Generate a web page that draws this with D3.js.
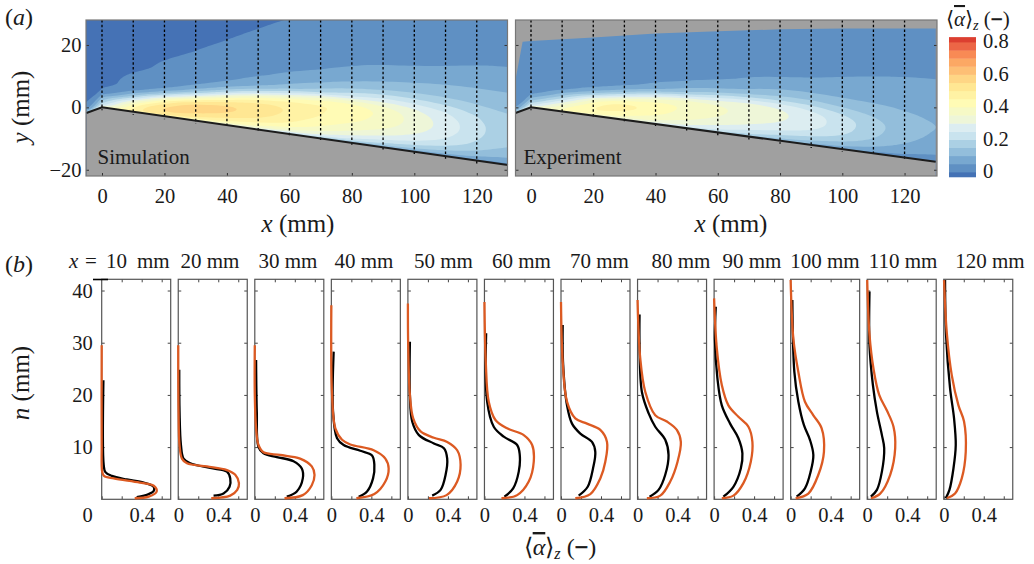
<!DOCTYPE html>
<html>
<head>
<meta charset="utf-8">
<script src="https://cdn.jsdelivr.net/npm/d3@7"></script>
<style>
  body { margin: 0; background: #fff; }
  svg { display: block; }
  text { font-family: "Liberation Serif", serif; fill: #1a1a1a; }
</style>
</head>
<body>
<script>
// colour bands of the contour plots
const bandEdges = [-0.03, 0, 0.05, 0.1, 0.15, 0.2, 0.25, 0.3, 0.35, 0.4, 0.45, 0.5, 0.55, 0.6, 0.65, 0.7, 0.75, 0.8, 0.83];
const bandColors = ["#4472b5", "#5f90c3", "#78a8d0", "#93bedb", "#abd0e4", "#c9e3ee", "#dcedf1", "#eef6d8", "#f6f9c6",
  "#fffbb5", "#fff2a4", "#ffe793", "#fed685", "#fdbf75", "#fca864", "#f88a55", "#ec6646", "#dc3f30"];

// field grid: wall distance rows, x stations
const nRows = [0, 1, 3, 5, 7, 9, 11, 13, 15, 18, 22, 27, 33, 40, 50];
const xCols = [-5, 0, 10, 20, 30, 40, 50, 60, 70, 80, 90, 100, 110, 120, 130];

const simField = [
  [-.01, -.01, -.01, -.01, -.01, -.01, -.01, -.01, -.01, -.01, -.01, -.01, -.01, -.01, -.01],
  [.45, .15, -.005, -.01, -.01, -.01, -.01, -.01, -.01, -.01, -.01, -.01, -.01, -.01, -.01],
  [.5, .59, .42, .02, .008, .005, .002, -.005, -.01, -.01, -.01, -.01, -.01, -.01, -.01],
  [.45, .56, .62, .56, .1, .035, .022, .014, .006, .001, -.01, -.01, -.01, -.01, -.01],
  [.35, .5, .57, .595, .5, .09, .045, .025, .015, .008, .001, -.01, -.01, -.01, -.01],
  [.3, .43, .53, .57, .56, .45, .12, .06, .04, .02, .01, .002, -.01, -.01, -.01],
  [.25, .39, .48, .52, .53, .51, .39, .13, .07, .04, .018, .007, .001, -.01, -.01],
  [.2, .33, .44, .48, .5, .49, .43, .24, .12, .065, .03, .015, .004, -.002, -.01],
  [.15, .29, .37, .41, .44, .45, .46, .4, .17, .1, .053, .025, .01, .002, .001],
  [.1, .23, .33, .38, .41, .43, .44, .38, .25, .125, .062, .04, .02, .005, .002],
  [.07, .17, .27, .33, .37, .38, .385, .365, .3, .165, .09, .045, .025, .01, .003],
  [.05, .15, .24, .29, .32, .335, .33, .31, .26, .165, .1, .05, .025, .01, .003],
  [.04, .11, .19, .24, .265, .28, .28, .265, .235, .16, .115, .06, .03, .012, .003],
  [.03, .09, .15, .19, .21, .22, .22, .21, .195, .155, .11, .07, .038, .015, .004],
  [.02, .06, .09, .115, .13, .14, .145, .145, .14, .125, .105, .08, .042, .018, .005]
];

const expField = [
  [.01, .01, .01, .01, .01, .01, .01, .01, .01, .01, .01, .01, .01, .01, .01],
  [.5, .2, .01, .01, .01, .01, .01, .01, .01, .01, .01, .01, .01, .01, .01],
  [.38, .5, .32, .04, .02, .018, .017, .016, .016, .015, .015, .012, .01, .01, .01],
  [.33, .45, .515, .49, .1, .045, .025, .02, .016, .013, .01, .01, .01, .01, .01],
  [.3, .38, .46, .48, .4, .08, .035, .025, .02, .018, .016, .013, .012, .01, .01],
  [.26, .34, .4, .425, .43, .33, .09, .05, .025, .017, .02, .02, .015, .012, .01],
  [.22, .3, .36, .38, .39, .37, .18, .09, .055, .025, .02, .02, .017, .012, .01],
  [.18, .26, .32, .35, .353, .34, .27, .14, .075, .033, .022, .018, .015, .012, .01],
  [.13, .2, .28, .32, .34, .34, .31, .175, .1, .06, .032, .02, .017, .012, .01],
  [.1, .17, .24, .285, .305, .31, .285, .2, .14, .075, .035, .022, .02, .015, .012],
  [.08, .13, .215, .26, .28, .28, .255, .2, .14, .08, .049, .025, .02, .015, .012],
  [.05, .1, .17, .21, .225, .225, .2, .15, .11, .08, .055, .035, .02, .017, .012],
  [.03, .07, .12, .15, .165, .17, .155, .135, .115, .085, .062, .04, .022, .02, .015],
  [.02, .045, .075, .1, .112, .118, .118, .11, .1, .08, .067, .045, .025, .015, .012],
  [.015, .03, .05, .07, .08, .085, .09, .09, .085, .075, .065, .05, .025, .015, .01]
];

// wall and measured-area outline, in mm
const wallX = [-5, 0, 130];
const wallSimY = [-1.8, 0, -18.5];
const wallExpY = [-1.8, 0, -17.4];
const expTopX = [-4.8, -2.7, 0, 20, 40, 60, 80, 100, 129.5];
const expTopY = [9.8, 21, 21.3, 22.4, 23.7, 24.4, 25, 25.3, 25.3];

const stationX = [10, 20, 30, 40, 50, 60, 70, 80, 90, 100, 110, 120];

// profiles of panel (b): [alpha, n]
const sim10 = [[.33, .2], [.47, .5], [.55, 1.5], [.52, 2.6], [.38, 3.2], [.12, 4], [.023, 4.5], [.005, 5.3], [0, 10.4], [0, 29.5]];
const sim20 = [[.33, .2], [.52, .7], [.59, 1.8], [.607, 3.1], [.57, 4.7], [.487, 5.6], [.287, 6.3], [.087, 6.9], [.037, 7.8], [.013, 10.4], [.003, 16.8], [0, 29.5]];
const sim30 = [[.297, .2], [.48, .8], [.57, 2.7], [.597, 4.7], [.57, 6.3], [.453, 7.8], [.253, 8.5], [.087, 9], [.037, 10.4], [.013, 13.6], [0, 20], [0, 29.5]];
const sim40 = [[.25, .2], [.43, 1], [.54, 3.4], [.573, 5.9], [.54, 7.8], [.423, 9.4], [.19, 10.5], [.107, 11.4], [.04, 13.6], [.007, 20], [0, 37.2]];
const sim50 = [[.21, .2], [.387, .8], [.493, 3.4], [.527, 6.6], [.493, 9.4], [.393, 11], [.26, 11.8], [.127, 13], [.053, 15.5], [.02, 20], [.003, 29.5], [0, 37.5]];
const sim60 = [[.17, .2], [.327, .8], [.443, 3.4], [.493, 7.2], [.477, 10.4], [.393, 12.3], [.227, 13.6], [.11, 15.2], [.043, 18.7], [.013, 26.4], [0, 37.8]];
const sim70 = [[.143, .2], [.293, 1], [.393, 4], [.443, 7.2], [.46, 11], [.393, 13.3], [.26, 14.5], [.143, 15.5], [.06, 18.7], [.017, 26.4], [0, 37.8]];
const sim80 = [[.093, .2], [.227, .7], [.327, 3.4], [.4, 7.2], [.433, 11], [.393, 13.3], [.293, 14.9], [.177, 16.1], [.077, 20.6], [.027, 27], [0, 38.2]];
const sim90 = [[.077, .2], [.193, .7], [.293, 3.1], [.367, 7.2], [.383, 11], [.343, 13.9], [.243, 15.8], [.143, 18], [.077, 21.9], [.027, 28.9], [0, 38.5]];
const sim100 = [[.05, .2], [.177, 1.1], [.277, 4.7], [.333, 9.1], [.31, 13.6], [.227, 16.1], [.143, 18.7], [.077, 24.4], [.027, 30.8], [0, 42]];
const sim110 = [[.037, .2], [.13, 1.1], [.23, 4.7], [.28, 9.8], [.263, 13.9], [.197, 17], [.12, 20], [.063, 25], [.023, 31.5], [0, 42]];
const sim120 = [[.03, .2], [.113, 1.1], [.18, 4], [.22, 9.1], [.203, 14.9], [.147, 18], [.08, 23.8], [.03, 32], [.003, 42]];

const exp10 = [[.35, .4], [.47, 1], [.52, 1.6], [.52, 2.4], [.42, 3.2], [.25, 3.8], [.1, 4.5], [.037, 5.2], [.02, 6.6], [.017, 22.8]];
const exp20 = [[.353, .7], [.453, 1.1], [.513, 2.4], [.52, 4], [.487, 5.3], [.32, 6], [.12, 6.9], [.053, 7.8], [.027, 10.4], [.013, 16.8], [.01, 24.8]];
const exp30 = [[.32, .5], [.42, 1.5], [.48, 4], [.47, 5.9], [.387, 7.3], [.22, 8.1], [.087, 8.8], [.037, 10], [.02, 16.8], [.013, 26.7]];
const exp40 = [[.273, .5], [.357, 1.5], [.417, 4], [.43, 6.6], [.407, 8.4], [.29, 9.3], [.123, 10.4], [.057, 11.7], [.017, 16.8], [.023, 28.3]];
const exp50 = [[.243, .7], [.327, 1.8], [.377, 4.7], [.393, 7.8], [.36, 9.8], [.26, 10.7], [.11, 12.3], [.043, 14.9], [.02, 20], [.02, 30.2]];
const exp60 = [[.2, .5], [.287, 2.1], [.343, 5.3], [.353, 8.5], [.327, 10.4], [.193, 12], [.093, 13.9], [.027, 18.7], [.017, 31.8]];
const exp70 = [[.177, .7], [.267, 2.4], [.32, 5.9], [.343, 9.1], [.31, 11], [.193, 12.6], [.11, 14.5], [.06, 18], [.02, 26.4], [.017, 33.4]];
const exp80 = [[.12, .5], [.21, 1.8], [.277, 4.7], [.31, 8.5], [.277, 11.4], [.177, 13.9], [.11, 16.5], [.043, 20.6], [.02, 29.5], [.02, 35.4]];
const exp90 = [[.093, .5], [.193, 2.4], [.267, 5.9], [.283, 8.8], [.243, 11.7], [.16, 14.5], [.077, 18], [.033, 23.2], [.008, 30.8], [.017, 36.9]];
const exp100 = [[.06, .5], [.143, 2.1], [.2, 5.3], [.227, 8.5], [.193, 11.4], [.133, 14.2], [.077, 18.7], [.037, 24.4], [.017, 38.2]];
const exp110 = [[.037, .5], [.097, 1.8], [.147, 5.3], [.17, 9.8], [.147, 12.3], [.097, 16.8], [.057, 21.9], [.023, 29.5], [.023, 39.8]];
const exp120 = [[.02, .2], [.057, 1.8], [.097, 5.9], [.12, 10.4], [.103, 15.5], [.063, 21.3], [.023, 31.5], [.013, 42]];

const simProfiles = [sim10, sim20, sim30, sim40, sim50, sim60, sim70, sim80, sim90, sim100, sim110, sim120];
const expProfiles = [exp10, exp20, exp30, exp40, exp50, exp60, exp70, exp80, exp90, exp100, exp110, exp120];

const svg = d3.select("body").append("svg").attr("width", 1034).attr("height", 564);

const defs = svg.append("defs");
defs.append("filter").attr("id", "soft").append("feGaussianBlur").attr("stdDeviation", 0.6);

// one segment of a Catmull-Rom spline, kept between its two end values
function spline(a, b, c, d, t) {
  const v = 0.5 * (2 * b + (c - a) * t + (2 * a - 5 * b + 4 * c - d) * t * t + (3 * b - a - 3 * c + d) * t * t * t);
  return Math.max(Math.min(b, c), Math.min(Math.max(b, c), v));
}
function refine(line, k) {
  const out = [];
  for (let i = 0; i < line.length - 1; i++) {
    const a = line[Math.max(i - 1, 0)], b = line[i], c = line[i + 1], d = line[Math.min(i + 2, line.length - 1)];
    for (let s = 0; s < k; s++) out.push(spline(a, b, c, d, s / k));
  }
  out.push(line[line.length - 1]);
  return out;
}

const K = 6;

// contour panel (a)
function contourPanel(o) {
  const x = d3.scaleLinear().domain([(o.left - o.x0) / o.pxmm, (o.left + 421.5 - o.x0) / o.pxmm]).range([o.left, o.left + 421.5]);
  const y = d3.scaleLinear().domain([-22, 28]).range([176, 20]);
  const wall = d3.scaleLinear().domain(wallX).range(o.wallY);
  const g = svg.append("g");

  g.append("rect").attr("x", o.left).attr("y", 20).attr("width", 421.5).attr("height", 156).attr("fill", "#a0a0a0");

  const clipId = "clip" + o.name;
  const clip = defs.append("clipPath").attr("id", clipId);
  if (o.top) {
    const area = o.top.map(d => [x(d[0]), y(d[1])]);
    area.push([x(130), y(o.top[o.top.length - 1][1])], [x(130), 176], [x(-4.8), 176]);
    clip.append("path").attr("d", d3.line()(area) + "Z");
  } else {
    clip.append("rect").attr("x", o.left).attr("y", 20).attr("width", 421.5).attr("height", 156);
  }

  // upsample along n then along x, then soften the grid steps
  const rowsUp = o.field.map(col => refine(col, K));
  const nUp = rowsUp[0].length;
  const colsUp = d3.range(nUp).map(j => refine(rowsUp.map(r => r[j]), K));
  const mUp = colsUp[0].length;
  const values = [];
  for (let j = 0; j < nUp; j++) for (let i = 0; i < mUp; i++) values.push(colsUp[j][i]);
  if (d3.blur2) d3.blur2({ data: values, width: mUp, height: nUp }, 4, 1.5);

  const xIdx = d3.scaleLinear().domain(d3.range(xCols.length)).range(xCols).clamp(true);
  const nIdx = d3.scaleLinear().domain(d3.range(nRows.length)).range(nRows).clamp(true);
  const proj = d3.geoTransform({
    point(gx, gy) {
      const mmX = xIdx((gx - 0.5) / K), mmN = nIdx((gy - 0.5) / K);
      this.stream.point(x(mmX), y(wall(mmX) + mmN));
    }
  });
  const path = d3.geoPath(proj);
  const contours = d3.contours().size([mUp, nUp]).thresholds(bandEdges.slice(1, -1))(values);

  const inner = g.append("g").attr("clip-path", `url(#${clipId})`).append("g").attr("filter", "url(#soft)");
  inner.append("rect").attr("x", o.left - 5).attr("y", 15).attr("width", 431).attr("height", 166).attr("fill", bandColors[0]);
  inner.selectAll("path").data(contours).enter().append("path")
    .attr("d", path)
    .attr("fill", (d, i) => bandColors[i + 1]);

  // wall
  const wallPts = wallX.map((d, i) => [x(d), y(o.wallY[i])]);
  g.append("path")
    .attr("d", d3.line()(wallPts.concat([[x(130), 176], [x(wallX[0]), 176]])) + "Z")
    .attr("fill", "#a0a0a0").attr("stroke", "none");

  // dotted sections
  g.selectAll(".sec").data([0].concat(stationX)).enter().append("line")
    .attr("x1", d => x(d)).attr("x2", d => x(d))
    .attr("y1", 20).attr("y2", d => y(wall(d)) + 3)
    .attr("stroke", "#000").attr("stroke-width", 1.3).attr("stroke-dasharray", "2.5,2.2");

  g.append("path").attr("d", d3.line()(wallPts))
    .attr("fill", "none").attr("stroke", "#1c1c1c").attr("stroke-width", 2);

  // axes
  const xAxis = d3.axisBottom(x).tickValues(d3.range(0, 121, 20)).tickSizeInner(-3).tickSizeOuter(0).tickPadding(12.5);
  const ax = g.append("g").attr("transform", "translate(0,176)").call(xAxis);
  const yAxis = d3.axisLeft(y).tickValues([-20, 0, 20]).tickSizeInner(-3).tickSizeOuter(0).tickPadding(4.5)
    .tickFormat(d => o.yLabels ? (d < 0 ? "\u2212" + (-d) : d) : "");
  const ay = g.append("g").attr("transform", `translate(${o.left},0)`).call(yAxis);
  const ar = g.append("g").attr("transform", `translate(${o.left + 421.5},0)`)
    .call(d3.axisRight(y).tickValues([-20, 0, 20]).tickSizeInner(-3).tickSizeOuter(0).tickFormat(""));
  [ax, ay, ar].forEach(a => {
    a.select(".domain").remove();
    a.selectAll("line").attr("stroke", "#333");
    a.selectAll("text").attr("font-size", 20.5).attr("font-family", "Liberation Serif").attr("fill", "#1a1a1a");
  });

  g.append("rect").attr("x", o.left).attr("y", 20).attr("width", 421.5).attr("height", 156)
    .attr("fill", "none").attr("stroke", "#777").attr("stroke-width", 1.2);

  g.append("text").attr("x", o.labelX).attr("y", 163.5).attr("font-size", 21).text(o.name);

  const lab = g.append("text").attr("x", o.xLabel).attr("y", 232).attr("text-anchor", "middle").attr("font-size", 25);
  lab.append("tspan").attr("font-style", "italic").text("x");
  lab.append("tspan").text(" (mm)");
}

contourPanel({ name: "Simulation", left: 86, x0: 102, pxmm: 3.123, wallY: wallSimY, field: simField, yLabels: true, labelX: 97.5, xLabel: 298 });
contourPanel({ name: "Experiment", left: 515.5, x0: 531, pxmm: 3.113, wallY: wallExpY, field: expField, yLabels: false, labelX: 523.5, xLabel: 731,
  top: expTopX.map((d, i) => [d, expTopY[i]]) });

// colour bar
const barY = d3.scaleLinear().domain([0, 0.8]).range([172, 42]);
svg.append("g").selectAll("rect").data(bandColors).enter().append("rect")
  .attr("x", 949).attr("width", 27)
  .attr("y", (d, i) => barY(bandEdges[i + 1]))
  .attr("height", (d, i) => barY(bandEdges[i]) - barY(bandEdges[i + 1]) + 0.4)
  .attr("fill", d => d);
svg.append("g").selectAll("text").data([0, 0.2, 0.4, 0.6, 0.8]).enter().append("text")
  .attr("x", 983).attr("y", d => barY(d) + 6.3).attr("font-size", 20.5)
  .text(d => d === 0 ? "0" : d3.format(".1f")(d));

// the averaged alpha symbol with its subscript
function alphaLabel(x, y, size, anchor) {
  const t = svg.append("text").attr("x", x).attr("y", y).attr("font-size", size).attr("text-anchor", anchor);
  t.append("tspan").text("\u27e8");
  t.append("tspan").attr("font-style", "italic").attr("text-decoration", "overline").text("\u03b1");
  t.append("tspan").text("\u27e9");
  t.append("tspan").attr("font-style", "italic").attr("font-size", size * 0.68).attr("dy", size * 0.18).text("z");
  t.append("tspan").attr("dy", -size * 0.18).text(" (");
  t.append("tspan").attr("font-weight", "bold").attr("stroke", "#1a1a1a").attr("stroke-width", 0.6).text("\u2212");
  t.append("tspan").text(")");
}
alphaLabel(946, 26, 21, "start");
alphaLabel(560, 555, 24, "middle");

// profile panels (b)
const panelW = 69, panelStep = 76.55;
const titleCenter = [0, 210, 288, 364, 443.5, 521.5, 599.5, 681, 752, 825, 903, 990];
const profX = d3.scaleLinear().domain([0, 0.69]).range([0, panelW]);
const profY = d3.scaleLinear().domain([0, 42.15]).range([499.3, 279.3]);
const profLine = d3.line().x(d => profX(d[0])).y(d => profY(d[1])).curve(d3.curveCatmullRom);

stationX.forEach((st, i) => {
  const g = svg.append("g").attr("transform", `translate(${101.7 + i * panelStep},0)`);

  const xa = d3.axisBottom(profX).tickValues([0, 0.2, 0.4, 0.6]).tickSizeInner(-3).tickSizeOuter(0).tickPadding(8.5)
    .tickFormat(d => d === 0 ? "0" : d === 0.4 ? "0.4" : "");
  const axb = g.append("g").attr("transform", "translate(0,499.3)").call(xa);
  const axt = g.append("g").attr("transform", "translate(0,279.3)")
    .call(d3.axisTop(profX).tickValues([0.2, 0.4, 0.6]).tickSizeInner(-3).tickSizeOuter(0).tickFormat(""));
  const ayl = g.append("g").call(d3.axisLeft(profY).tickValues([10, 20, 30, 40]).tickSizeInner(-3).tickSizeOuter(0).tickPadding(9)
    .tickFormat(d => i === 0 ? d : ""));
  const ayr = g.append("g").attr("transform", `translate(${panelW},0)`)
    .call(d3.axisRight(profY).tickValues([10, 20, 30, 40]).tickSizeInner(-3).tickSizeOuter(0).tickFormat(""));
  [axb, axt, ayl, ayr].forEach(a => {
    a.select(".domain").remove();
    a.selectAll("line").attr("stroke", "#444");
    a.selectAll("text").attr("font-size", 20.5).attr("font-family", "Liberation Serif").attr("fill", "#1a1a1a");
  });
  if (i === 0) axb.selectAll("text").filter(d => d === 0).attr("x", -14.7);

  g.append("rect").attr("width", panelW).attr("y", 279.3).attr("height", 220)
    .attr("fill", "none").attr("stroke", "#555").attr("stroke-width", 1.2);

  g.append("path").attr("d", profLine(expProfiles[i])).attr("fill", "none").attr("stroke", "#000").attr("stroke-width", 2.3);
  g.append("path").attr("d", profLine(simProfiles[i])).attr("fill", "none").attr("stroke", "#dc5a22").attr("stroke-width", 2.3);

  if (i > 0) {
    svg.append("text").attr("x", titleCenter[i]).attr("y", 268).attr("text-anchor", "middle")
      .attr("font-size", 21).text(st + " mm");
  }
});

// first title, with the x =
const t0 = svg.append("text").attr("y", 268).attr("font-size", 21);
t0.append("tspan").attr("x", 69).attr("font-style", "italic").text("x");
t0.append("tspan").attr("x", 85).text("=");
t0.append("tspan").attr("x", 106).text("10");
t0.append("tspan").attr("x", 137).text("mm");
svg.append("line").attr("x1", 93).attr("x2", 108).attr("y1", 279.5).attr("y2", 279.5).attr("stroke", "#000").attr("stroke-width", 1.6);

const nLab = svg.append("text").attr("transform", "translate(29,383) rotate(-90)").attr("text-anchor", "middle").attr("font-size", 25);
nLab.append("tspan").attr("font-style", "italic").text("n");
nLab.append("tspan").text(" (mm)");
const yLab = svg.append("text").attr("transform", "translate(29,107) rotate(-90)").attr("text-anchor", "middle").attr("font-size", 25);
yLab.append("tspan").attr("font-style", "italic").text("y");
yLab.append("tspan").text(" (mm)");

// panel letters
[["a", 25], ["b", 272]].forEach(d => {
  const t = svg.append("text").attr("x", 5).attr("y", d[1]).attr("font-size", 24);
  t.append("tspan").text("(");
  t.append("tspan").attr("font-style", "italic").text(d[0]);
  t.append("tspan").text(")");
});
</script>
</body>
</html>
